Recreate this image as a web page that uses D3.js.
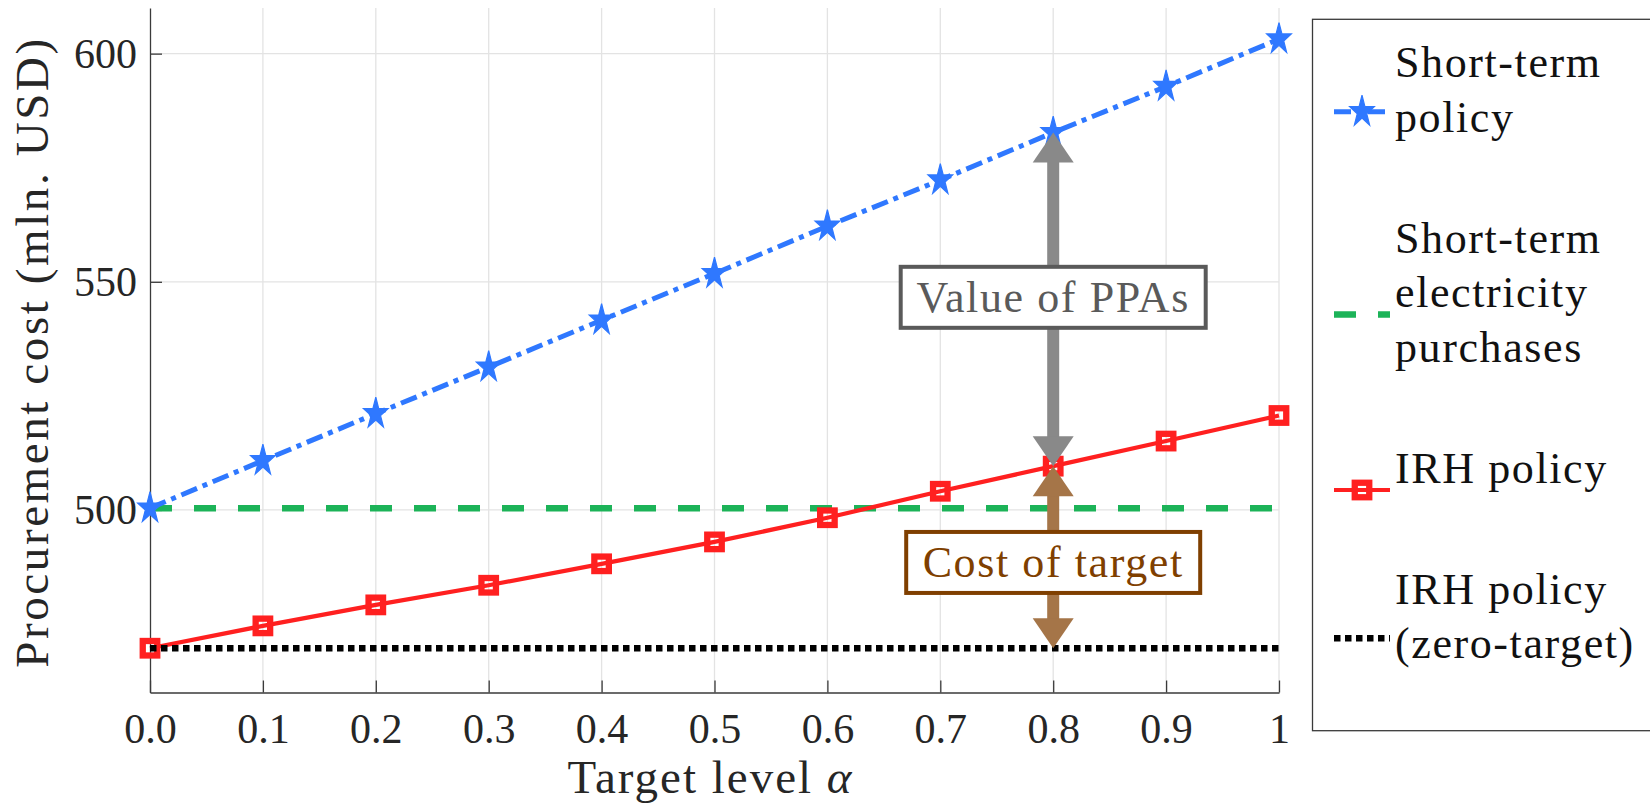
<!DOCTYPE html>
<html>
<head>
<meta charset="utf-8">
<script src="https://cdn.jsdelivr.net/npm/d3@7"></script>
<style>
  html, body { margin: 0; padding: 0; background: #ffffff; }
  svg { display: block; }
  text { font-family: "Liberation Serif", "DejaVu Serif", serif; }
</style>
</head>
<body>
<svg id="chart" width="1650" height="810"></svg>
<script>
// ---- data ----
const alphaLevels = [0, 0.1, 0.2, 0.3, 0.4, 0.5, 0.6, 0.7, 0.8, 0.9, 1];
const xTickLabels = ["0.0", "0.1", "0.2", "0.3", "0.4", "0.5", "0.6", "0.7", "0.8", "0.9", "1"];
const yTicks = [500, 550, 600];

// procurement cost, mln. USD
const shortTermPolicy    = [500.4, 510.8, 521.1, 531.3, 541.6, 551.8, 562.2, 572.3, 582.7, 592.8, 603.2];
const shortTermPurchases = [500.4, 500.4, 500.4, 500.4, 500.4, 500.4, 500.4, 500.4, 500.4, 500.4, 500.4];
const irhPolicy          = [469.7, 474.6, 479.2, 483.5, 488.2, 493.0, 498.3, 504.1, 509.6, 515.1, 520.7];
const irhZeroTarget      = [469.7, 469.7, 469.7, 469.7, 469.7, 469.7, 469.7, 469.7, 469.7, 469.7, 469.7];

const legendLabels = [
  ["Short-term", "policy"],
  ["Short-term", "electricity", "purchases"],
  ["IRH policy"],
  ["IRH policy", "(zero-target)"]
];
const annotationAlpha = 0.8;
const annotationLabels = ["Value of PPAs", "Cost of target"];

// ---- layout ----
const svg = d3.select("#chart");
const plot = { left: 150, right: 1279, top: 8, bottom: 692.5 };
const x = d3.scaleLinear().domain([0, 1]).range([plot.left, plot.right]);
const y = d3.scaleLinear().domain([460, 610]).range([plot.bottom, plot.top]);

const axisColor = "#3a3a3a";
const gridColor = "#e3e3e3";
const tickFont = 42;

const series = [
  { values: shortTermPolicy,    color: "#2f78ff", width: 5,   dash: "17,6,5,6",  marker: "star" },
  { values: shortTermPurchases, color: "#1cb358", width: 6.5, dash: "22,22",     marker: null },
  { values: irhPolicy,          color: "#ff2020", width: 4.2, dash: null,        marker: "square" },
  { values: irhZeroTarget,      color: "#000000", width: 6.5, dash: "6.5,4.5",   marker: null }
];
// plotting order: dashed reference first, then the policy curves
const drawOrder = [1, 0, 2, 3];

function starPath(sx, sy) {
  const pts = [];
  for (let i = 0; i < 10; i++) {
    const a = (-90 + i * 36) * Math.PI / 180;
    const r = i % 2 === 0 ? 1 : 0.382;
    pts.push([r * Math.cos(a) * sx, r * Math.sin(a) * sy]);
  }
  return "M" + pts.map(p => p[0].toFixed(2) + "," + p[1].toFixed(2)).join("L") + "Z";
}
const STAR = starPath(13, 16.5);

function drawMarker(g, kind, color, cx, cy) {
  if (kind === "star") {
    g.append("path").attr("d", STAR)
      .attr("transform", `translate(${cx},${cy})`)
      .attr("fill", color).attr("stroke", color).attr("stroke-width", 1.2)
      .attr("stroke-linejoin", "miter");
  } else if (kind === "square") {
    const s = 14.5;
    g.append("rect").attr("x", cx - s / 2).attr("y", cy - s / 2)
      .attr("width", s).attr("height", s)
      .attr("fill", "none").attr("stroke", color).attr("stroke-width", 6.3);
  }
}

// ---- grid ----
const grid = svg.append("g");
grid.selectAll("line.gv").data(alphaLevels.slice(1)).join("line").attr("class", "gv")
  .attr("x1", d => x(d)).attr("x2", d => x(d))
  .attr("y1", plot.top).attr("y2", plot.bottom)
  .attr("stroke", gridColor).attr("stroke-width", 1.3);
grid.selectAll("line.gh").data(yTicks).join("line").attr("class", "gh")
  .attr("x1", plot.left).attr("x2", plot.right)
  .attr("y1", d => y(d)).attr("y2", d => y(d))
  .attr("stroke", gridColor).attr("stroke-width", 1.3);

// ---- axes ----
const xAxis = svg.append("g").attr("transform", `translate(0,${plot.bottom})`)
  .call(d3.axisBottom(x).tickValues(alphaLevels)
    .tickFormat((d, i) => xTickLabels[i]).tickSizeInner(-12).tickSizeOuter(0));
const yAxis = svg.append("g").attr("transform", `translate(${plot.left},0)`)
  .call(d3.axisLeft(y).tickValues(yTicks).tickSizeInner(-12).tickSizeOuter(0).tickPadding(13));

[xAxis, yAxis].forEach(a => {
  a.select(".domain").attr("stroke", axisColor).attr("stroke-width", 1.3);
  a.selectAll(".tick line").attr("stroke", axisColor).attr("stroke-width", 1.3);
  a.selectAll(".tick text").attr("fill", "#262626")
    .style("font-family", "'Liberation Serif', serif").style("font-size", tickFont + "px");
});
xAxis.selectAll(".tick text").attr("y", 50).attr("dy", 0);
yAxis.selectAll(".tick text").attr("dy", "0.32em");

// axis titles
svg.append("text")
  .attr("x", (plot.left + plot.right) / 2 - 4).attr("y", 793)
  .attr("text-anchor", "middle").attr("fill", "#262626")
  .style("font-size", "47px").style("letter-spacing", "2px")
  .call(t => {
    t.append("tspan").text("Target level ");
    t.append("tspan").attr("font-style", "italic").text("α");
  });
svg.append("text")
  .attr("transform", "translate(48,352) rotate(-90)")
  .attr("text-anchor", "middle").attr("fill", "#262626")
  .style("font-size", "47px").style("letter-spacing", "2.6px")
  .text("Procurement cost (mln. USD)");

// ---- series ----
const line = d3.line().x((d, i) => x(alphaLevels[i])).y(d => y(d));
const marks = svg.append("g");
drawOrder.forEach(k => {
  const s = series[k];
  const g = marks.append("g");
  g.append("path").datum(s.values).attr("d", line)
    .attr("fill", "none").attr("stroke", s.color).attr("stroke-width", s.width)
    .attr("stroke-dasharray", s.dash).attr("stroke-linecap", "butt");
  if (s.marker) {
    s.values.forEach((v, i) => drawMarker(g, s.marker, s.color, x(alphaLevels[i]), y(v)));
  }
});

// ---- double arrows at alpha = 0.8 ----
const ai = alphaLevels.indexOf(annotationAlpha);
const ax = x(annotationAlpha);
function doubleArrow(yTop, yBottom, color) {
  const hl = 30, hw = 20.5, sw = 12;
  const g = svg.append("g").attr("fill", color);
  g.append("rect").attr("x", ax - sw / 2).attr("y", yTop + hl - 1)
    .attr("width", sw).attr("height", (yBottom - hl + 1) - (yTop + hl - 1));
  g.append("path").attr("d", `M${ax},${yTop}L${ax + hw},${yTop + hl}L${ax - hw},${yTop + hl}Z`);
  g.append("path").attr("d", `M${ax},${yBottom}L${ax + hw},${yBottom - hl}L${ax - hw},${yBottom - hl}Z`);
}
doubleArrow(y(shortTermPolicy[ai]), y(irhPolicy[ai]), "#898989");
doubleArrow(y(irhPolicy[ai]), y(irhZeroTarget[ai]), "#a57548");

function labelBox(text, cx, cy, w, h, color) {
  const g = svg.append("g");
  g.append("rect").attr("x", cx - w / 2).attr("y", cy - h / 2).attr("width", w).attr("height", h)
    .attr("fill", "#ffffff").attr("stroke", color).attr("stroke-width", 4);
  g.append("text").attr("x", cx).attr("y", cy + 14.5).attr("text-anchor", "middle")
    .attr("fill", color).style("font-size", "44px").style("letter-spacing", "1.6px").text(text);
}
labelBox(annotationLabels[0], ax, y(546.6), 305, 61, "#5a5a5a");
labelBox(annotationLabels[1], ax, y(488.5), 294, 61, "#7f3f00");

// ---- legend ----
const legend = svg.append("g");
legend.append("rect").attr("x", 1312.5).attr("y", 19.3).attr("width", 400).attr("height", 711.4)
  .attr("fill", "#ffffff").attr("stroke", axisColor).attr("stroke-width", 1.3);

const lg = { textX: 1395, x1: 1334, x2: 1390, firstBaseline: 77, lineStep: 54.5, entryGap: 66.5 };
let baseline = lg.firstBaseline;
legendLabels.forEach((lines, k) => {
  const s = series[k];
  const t = legend.append("text").attr("fill", "#111111")
    .style("font-size", "44px").style("letter-spacing", "1.6px");
  lines.forEach((ln, j) => {
    t.append("tspan").attr("x", lg.textX).attr("y", baseline + j * lg.lineStep).text(ln);
  });
  const sy = baseline + (lines.length - 1) * lg.lineStep / 2 + 7.5;
  legend.append("line").attr("x1", lg.x1).attr("x2", lg.x2).attr("y1", sy).attr("y2", sy)
    .attr("stroke", s.color).attr("stroke-width", s.width)
    .attr("stroke-dasharray", s.dash);
  if (s.marker) drawMarker(legend, s.marker, s.color, (lg.x1 + lg.x2) / 2, sy);
  baseline += lines.length * lg.lineStep + lg.entryGap;
});
</script>
</body>
</html>
